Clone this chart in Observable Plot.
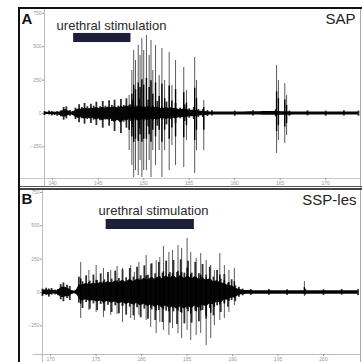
<!DOCTYPE html>
<html>
<head>
<meta charset="utf-8">
<script src="https://cdn.jsdelivr.net/npm/d3@7"></script>
<script src="https://cdn.jsdelivr.net/npm/@observablehq/plot@0.6"></script>
<style>
  html, body { margin: 0; padding: 0; background: #fff; }
  #wrap { position: relative; width: 362px; height: 362px; overflow: hidden; background: #fff; font-family: "Liberation Sans", Arial, sans-serif; }
  .ln { position: absolute; }
  .pl { position: absolute; }
</style>
</head>
<body>
<div id="wrap">
  <div class="ln" style="left:44px;top:9px;width:1px;height:177px;background:#bbb"></div>
  <div class="ln" style="left:20px;top:178px;width:340px;height:1px;background:#c8c8c8"></div>
  <div class="ln" style="left:42px;top:190px;width:1px;height:172px;background:#bbb"></div>
  <div class="ln" style="left:33px;top:354px;width:327px;height:1px;background:#bbb"></div>
  <div class="ln" style="left:18px;top:7px;width:2px;height:355px;background:#111"></div>
  <div class="ln" style="left:18px;top:7px;width:344px;height:2px;background:#111"></div>
  <div class="ln" style="left:360px;top:9px;width:1px;height:353px;background:#aaa"></div>
  <div class="ln" style="left:20px;top:186px;width:342px;height:1px;background:#555"></div>
  <div class="ln" style="left:20px;top:188px;width:342px;height:2px;background:#444"></div>
  <div class="pl" id="pA" style="left:20px;top:9px"></div>
  <div class="pl" id="pB" style="left:20px;top:190px"></div>
</div>
<script>
// ---------- Panel A (SAP) ----------
const panelLabelA = "A";
const traceNameA = "SAP";
const stimLabel = "urethral stimulation";
const xTicksA = [140, 145, 150, 155, 160, 165, 170];
const yTicks = [-250, 0, 250, 500, 750];
const stimA = [142.3, 148.6];

const noiseTimeA = [139.1, 139.6, 139.9, 140.2, 140.5, 140.9, 141.2, 141.5, 141.9, 142.2, 142.5, 142.9, 143.2, 143.5, 143.8, 144.2, 144.5, 144.8, 145.2, 145.5, 145.8, 146.2, 146.5, 146.8, 147.2, 147.5, 147.8, 148.1, 148.5, 148.8, 149.1, 149.5, 150.0, 150.5, 151.0, 151.5, 152.0, 152.5, 153.0, 153.5, 154.0, 154.5, 155.0, 155.5, 156.0, 156.5, 157.0, 157.5, 160.0, 162.0, 164.5, 166.0, 168.0, 170.0, 172.0, 173.6];
const noiseLoA = [-15, -12, -18, -15, -20, -25, -50, -40, -20, -15, -45, -70, -40, -80, -45, -75, -50, -90, -55, -110, -50, -95, -60, -135, -55, -150, -65, -110, -60, -105, -55, -115, -60, -100, -55, -95, -50, -85, -45, -75, -40, -60, -35, -45, -30, -30, -22, -18, -20, -18, -25, -20, -18, -20, -18, -20];
const noiseHiA = [15, 18, 15, 12, 15, 20, 45, 50, 22, 15, 40, 65, 45, 75, 50, 70, 55, 85, 50, 90, 55, 95, 60, 100, 55, 105, 60, 110, 65, 100, 60, 110, 55, 100, 60, 90, 50, 85, 45, 75, 40, 65, 35, 45, 30, 30, 22, 20, 18, 20, 28, 18, 20, 18, 20, 18];

const spikeTimeA = [148.4, 148.7, 148.9, 149.1, 149.4, 149.6, 149.8, 150.0, 150.3, 150.6, 150.8, 151.0, 151.3, 151.7, 152.0, 152.3, 152.8, 153.1, 153.5, 154.4, 154.7, 155.6, 155.8, 156.6, 164.6, 164.8, 165.5, 165.7];
const spikeHiA = [135, 322, 472, 397, 510, 435, 562, 472, 585, 435, 547, 322, 510, 285, 487, 248, 457, 210, 397, 345, 172, 420, 248, 98, 360, 248, 225, 135];
const spikeLoA = [-278, -390, -480, -428, -465, -353, -480, -428, -428, -353, -480, -278, -390, -278, -480, -278, -428, -240, -390, -405, -202, -450, -278, -278, -300, -202, -225, -165];

// ---------- Panel B (SSP-les) ----------
const panelLabelB = "B";
const traceNameB = "SSP-les";
const xTicksB = [170, 175, 180, 185, 190, 195, 200];
const stimB = [176.1, 185.8];

const noiseTimeB = [169.1, 169.5, 169.8, 170.1, 170.5, 170.8, 171.1, 171.4, 171.8, 172.1, 172.3, 172.9, 173.1, 173.5, 173.9, 174.3, 174.7, 175.1, 175.5, 175.9, 176.3, 176.7, 177.1, 177.5, 177.9, 178.3, 178.7, 179.1, 179.5, 179.9, 180.3, 180.7, 181.1, 181.5, 181.9, 182.3, 182.7, 183.1, 183.5, 183.9, 184.3, 184.7, 185.1, 185.5, 185.9, 186.3, 186.7, 187.1, 187.5, 187.9, 188.3, 188.7, 189.1, 189.5, 189.9, 190.3, 190.7, 191.1, 192, 194, 196, 198, 200, 202, 203.8];
const noiseLoB = [-30, -22, -35, -20, -18, -25, -55, -70, -45, -60, -15, -12, -80, -120, -75, -125, -85, -135, -90, -140, -95, -150, -100, -160, -105, -170, -110, -175, -115, -190, -125, -200, -130, -210, -135, -225, -140, -230, -145, -240, -150, -235, -145, -230, -140, -220, -135, -200, -120, -175, -100, -150, -80, -110, -60, -70, -35, -25, -22, -20, -22, -20, -22, -20, -22];
const noiseHiB = [25, 32, 26, 30, 18, 22, 60, 72, 55, 45, 15, 15, 115, 80, 125, 85, 130, 90, 140, 95, 150, 100, 160, 105, 170, 110, 180, 115, 190, 125, 200, 130, 215, 140, 225, 145, 235, 150, 240, 150, 245, 145, 235, 145, 225, 140, 210, 130, 190, 115, 165, 100, 135, 70, 95, 50, 40, 25, 22, 22, 20, 24, 20, 22, 20];

const spikeTimeB = [173.3, 174.2, 175.0, 175.8, 176.6, 177.3, 177.9, 178.8, 179.2, 179.7, 180.5, 181.0, 181.6, 182.0, 182.4, 183.0, 183.4, 184.0, 184.4, 185.0, 185.4, 186.0, 186.5, 187.1, 187.6, 188.0, 188.6, 189.1, 189.6, 190.2, 197.9];
const spikeHiB = [225, 165, 202, 180, 165, 195, 180, 202, 150, 225, 278, 210, 240, 262, 345, 300, 315, 352, 330, 405, 300, 255, 292, 240, 202, 165, 292, 202, 165, 180, 82];
const spikeLoB = [-195, -135, -150, -188, -172, -165, -225, -195, -210, -172, -210, -262, -308, -225, -285, -322, -270, -308, -345, -285, -360, -322, -308, -398, -345, -248, -210, -195, -150, -98, -30];

// ---------- helpers ----------
const zipNoise = (t, lo, hi) => t.map((v, i) => ({t: v, lo: lo[i], hi: hi[i]}));
const FONT = '"Liberation Sans", Arial, sans-serif';

function panel(opts) {
  const noise = zipNoise(opts.noiseT, opts.noiseLo, opts.noiseHi);
  const spikes = zipNoise(opts.spikeT, opts.spikeLo, opts.spikeHi);
  const stim = [{start: opts.stim[0], end: opts.stim[1]}];
  return Plot.plot({
    width: 340,
    height: opts.height,
    marginLeft: opts.ml,
    marginRight: 2,
    marginTop: opts.mt,
    marginBottom: opts.mb,
    style: {background: "transparent", overflow: "visible", fontSize: "5px", fontFamily: FONT, color: "#9a9a9a"},
    x: {domain: opts.xDomain, ticks: opts.xTicks, tickSize: 2, tickPadding: 1, label: null},
    y: {domain: opts.yDomain, ticks: yTicks, tickSize: 2, tickPadding: 1, label: null},
    marks: [
      Plot.ruleX(spikes, {x: "t", y1: "lo", y2: "hi", stroke: "#5a5a5a", strokeWidth: 1}),
      Plot.ruleX(noise, {x: "t", y1: "lo", y2: "hi", stroke: "#2e2e2e", strokeWidth: 1.8}),
      Plot.areaY(noise, {x: "t", y1: d => d.lo * 0.6, y2: d => d.hi * 0.6, fill: "#050505", curve: "basis"}),
      Plot.ruleX(spikes, {x: "t", y1: d => d.lo * 0.45, y2: d => d.hi * 0.45, stroke: "#000", strokeWidth: 1.4}),
      Plot.rect(stim, {x1: "start", x2: "end", y1: opts.barY[0], y2: opts.barY[1], fill: "#1d1e3a"}),
      Plot.text([stimLabel], {frameAnchor: "top-left", dx: opts.stimDx, dy: opts.stimDy, text: d => d, textAnchor: "middle", lineAnchor: "bottom", fontSize: 13, fill: "#2a2a2a", fontFamily: FONT}),
      Plot.text([opts.label], {frameAnchor: "top-left", dx: opts.labelDx, dy: opts.labelDy, text: d => d, textAnchor: "start", lineAnchor: "bottom", fontSize: 15, fontWeight: "bold", fill: "#111", fontFamily: FONT}),
      Plot.text([opts.name], {frameAnchor: "top-right", dx: opts.nameDx, dy: opts.nameDy, text: d => d, textAnchor: "end", lineAnchor: "bottom", fontSize: 15, fill: "#222", fontFamily: FONT})
    ]
  });
}

document.getElementById("pA").appendChild(panel({
  height: 178, ml: 24, mt: 3, mb: 9,
  xDomain: [139.1, 173.6], yDomain: [-487, 757], xTicks: xTicksA,
  noiseT: noiseTimeA, noiseLo: noiseLoA, noiseHi: noiseHiA,
  spikeT: spikeTimeA, spikeLo: spikeLoA, spikeHi: spikeHiA,
  stim: stimA, barY: [532, 600],
  stimDx: 67, stimDy: 17,
  label: panelLabelA, labelDx: -23, labelDy: 11,
  name: traceNameA, nameDx: -3, nameDy: 11
}));

document.getElementById("pB").appendChild(panel({
  height: 172, ml: 22, mt: 1, mb: 8,
  xDomain: [169.1, 203.85], yDomain: [-465, 757], xTicks: xTicksB,
  noiseT: noiseTimeB, noiseLo: noiseLoB, noiseHi: noiseHiB,
  spikeT: spikeTimeB, spikeLo: spikeLoB, spikeHi: spikeHiB,
  stim: stimB, barY: [472, 547],
  stimDx: 111, stimDy: 23,
  label: panelLabelB, labelDx: -21, labelDy: 12,
  name: traceNameB, nameDx: -2, nameDy: 13
}));
</script>
</body>
</html>
